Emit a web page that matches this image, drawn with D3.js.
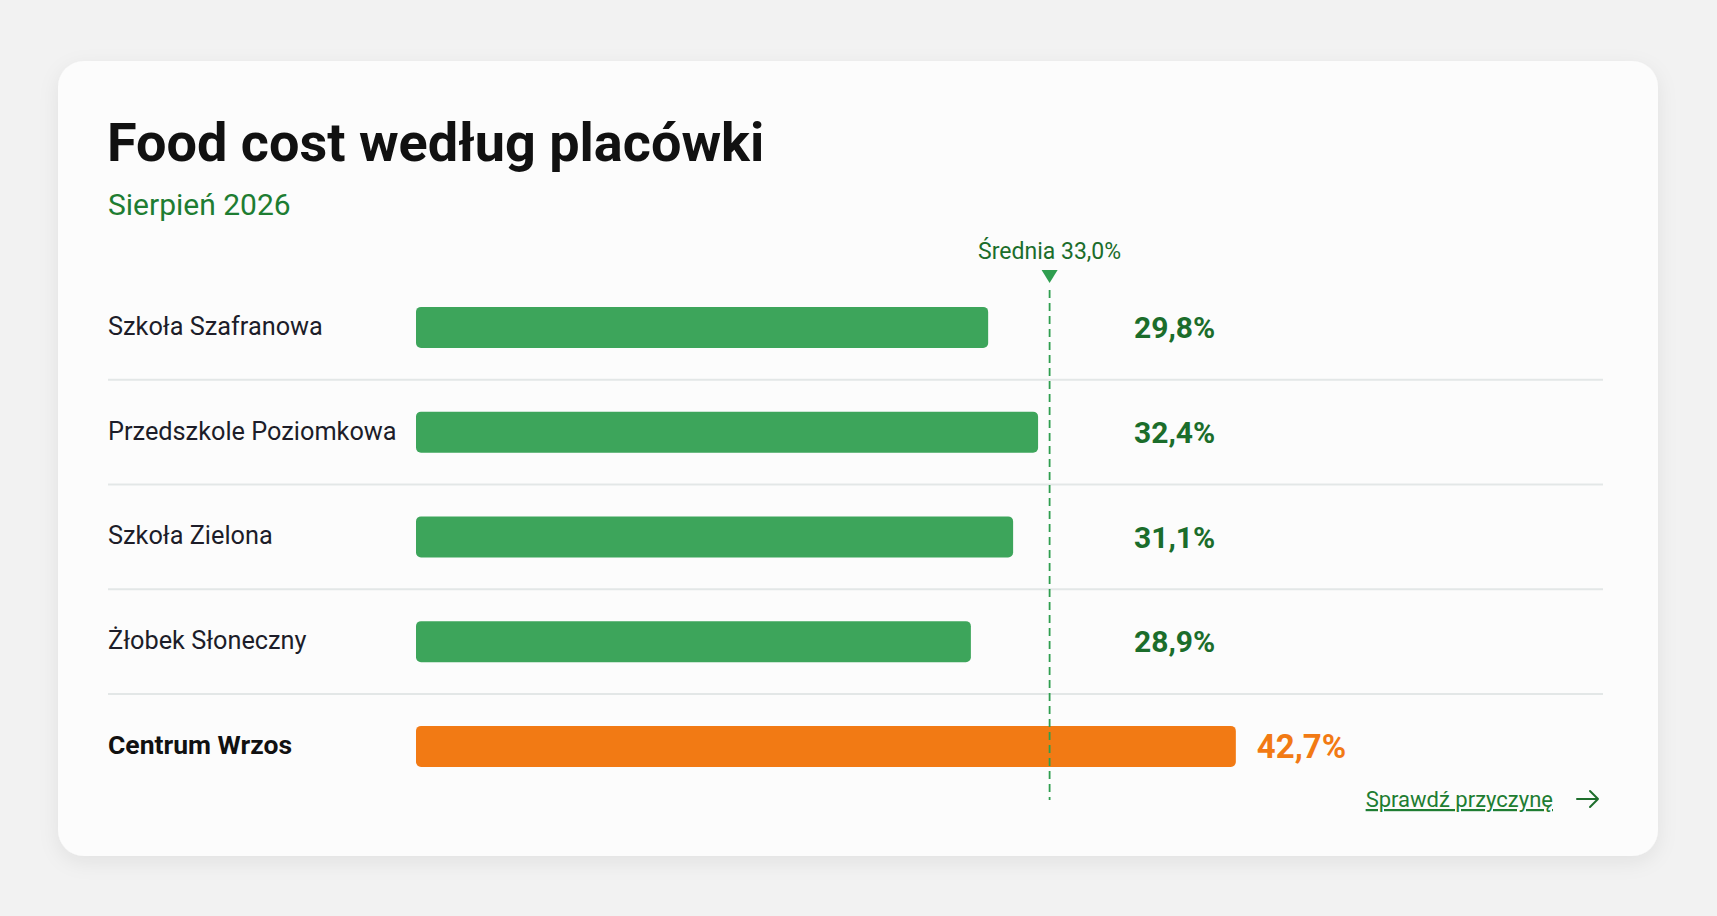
<!DOCTYPE html>
<html lang="pl">
<head>
<meta charset="utf-8">
<title>Food cost według placówki</title>
<script src="https://cdn.jsdelivr.net/npm/d3@7"></script>
<style>
  html, body { margin: 0; padding: 0; background: #f2f2f2; }
  svg { display: block; font-family: Roboto, "Liberation Sans", Arial, sans-serif; }
</style>
</head>
<body>
<svg id="chart" width="1717" height="916"></svg>
<script>
// food cost per site, August 2026
const sites = ["Szkoła Szafranowa", "Przedszkole Poziomkowa", "Szkoła Zielona", "Żłobek Słoneczny", "Centrum Wrzos"];
const foodCost = [29.8, 32.4, 31.1, 28.9, 42.7];
const flagged = [false, false, false, false, true];
const average = 33.0;

const title = "Food cost według placówki";
const subtitle = "Sierpień 2026";
const avgLabel = "Średnia";
const linkText = "Sprawdź przyczynę";

const GREEN = "#3da55b", ORANGE = "#f27a14", DARK_GREEN = "#1b6d2b";

const pl = d3.formatLocale({ decimal: ",", thousands: " ", grouping: [3], currency: ["", " zł"] });
const fmt = v => pl.format(".1f")(v) + "%";

const rows = sites.map((name, i) => ({ name, value: foodCost[i], flagged: flagged[i] }));

const svg = d3.select("#chart");

const defs = svg.append("defs");
const shadow = defs.append("filter").attr("id", "shadow")
  .attr("x", "-10%").attr("y", "-10%").attr("width", "120%").attr("height", "125%");
shadow.append("feDropShadow")
  .attr("dx", 0).attr("dy", 6).attr("stdDeviation", 10)
  .attr("flood-color", "#000").attr("flood-opacity", 0.07);

// card
svg.append("rect")
  .attr("x", 58).attr("y", 61).attr("width", 1600).attr("height", 795)
  .attr("rx", 26).attr("fill", "#fcfcfc")
  .attr("filter", "url(#shadow)");

svg.append("text")
  .attr("x", 107).attr("y", 161)
  .attr("font-size", 54).attr("font-weight", 700).attr("fill", "#111")
  .text(title);

svg.append("text")
  .attr("x", 108).attr("y", 215)
  .attr("font-size", 30).attr("fill", "#1e7d32")
  .text(subtitle);

const x = d3.scaleLinear().domain([0, 45]).range([416, 1280]);
const y = d3.scaleBand().domain(sites).range([275, 275 + 5 * 104.75]);
const barH = 41;

// separators between rows
svg.append("g").selectAll("line")
  .data(sites.slice(0, -1))
  .join("line")
  .attr("x1", 108).attr("x2", 1603)
  .attr("y1", d => y(d) + y.bandwidth())
  .attr("y2", d => y(d) + y.bandwidth())
  .attr("stroke", "#e3e7e7").attr("stroke-width", 2);

const row = svg.append("g").selectAll("g")
  .data(rows)
  .join("g")
  .attr("transform", d => `translate(0,${y(d.name) + y.bandwidth() / 2})`);

row.append("text")
  .attr("x", 108).attr("dy", "0.3em")
  .attr("font-size", d => d.flagged ? 26.5 : 25.3)
  .attr("font-weight", d => d.flagged ? 700 : 400)
  .attr("fill", d => d.flagged ? "#111" : "#1d1d29")
  .text(d => d.name);

row.append("rect")
  .attr("x", x(0)).attr("y", -barH / 2)
  .attr("width", d => x(d.value) - x(0)).attr("height", barH)
  .attr("rx", 5)
  .attr("fill", d => d.flagged ? ORANGE : GREEN);

row.append("text")
  .attr("x", d => d.flagged ? x(d.value) + 21 : 1134)
  .attr("dy", "0.36em")
  .attr("font-size", d => d.flagged ? 33 : 30)
  .attr("font-weight", 700)
  .attr("fill", d => d.flagged ? ORANGE : DARK_GREEN)
  .text(d => fmt(d.value));

// average marker
const ax = x(average);
const avg = svg.append("g");
avg.append("line")
  .attr("x1", ax).attr("x2", ax).attr("y1", 290).attr("y2", 800)
  .attr("stroke", "#2f9e4f").attr("stroke-width", 1.8)
  .attr("stroke-dasharray", "8,5");
avg.append("path")
  .attr("d", `M${ax - 8},270 L${ax + 8},270 L${ax},283 Z`)
  .attr("fill", "#2f9e4f");
avg.append("text")
  .attr("x", ax).attr("y", 259)
  .attr("text-anchor", "middle")
  .attr("font-size", 23).attr("fill", DARK_GREEN)
  .text(`${avgLabel} ${pl.format(".1f")(average)}%`);

// link
const link = svg.append("g");
link.append("text")
  .attr("x", 1553).attr("y", 807)
  .attr("text-anchor", "end")
  .attr("font-size", 22)
  .attr("fill", "#1e7d32")
  .attr("text-decoration", "underline")
  .text(linkText);
link.append("path")
  .attr("d", "M1577,799 H1598 M1590,791 L1598,799 L1590,807")
  .attr("fill", "none").attr("stroke", "#1e6e2c")
  .attr("stroke-width", 2).attr("stroke-linecap", "round").attr("stroke-linejoin", "round");
</script>
</body>
</html>
